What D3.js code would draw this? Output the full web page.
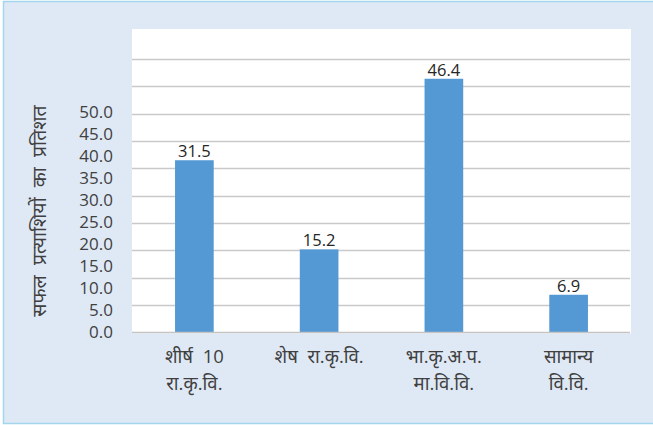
<!DOCTYPE html>
<html>
<head>
<meta charset="utf-8">
<script src="https://cdn.jsdelivr.net/npm/d3@7"></script>
<style>
  html, body { margin: 0; padding: 0; background: #ffffff; }
  svg { display: block; font-family: "Open Sans", "Noto Sans", "Noto Sans Devanagari", sans-serif; }
</style>
</head>
<body>
<svg id="chart" width="653" height="425"></svg>
<script>
// Share of successful candidates by university type
const categories = [["शीर्ष  10", "रा.कृ.वि."], ["शेष  रा.कृ.वि."], ["भा.कृ.अ.प.", "मा.वि.वि."], ["सामान्य", "वि.वि."]];
const values = [31.5, 15.2, 46.4, 6.9];
const gridValues = [0, 5, 10, 15, 20, 25, 30, 35, 40, 45, 50];
const tickLabels = ["0.0", "5.0", "10.0", "15.0", "20.0", "25.0", "30.0", "35.0", "40.0", "45.0", "50.0"];
const yTitle = "सफल  प्रत्याशियों  का  प्रतिशत";

const svg = d3.select("#chart");
const W = 653, H = 425;

// outer panel
svg.append("rect").attr("x", 3.5).attr("y", 1.5).attr("width", W).attr("height", H - 3)
  .attr("fill", "#dfe9f5").attr("stroke", "#a3d6ee").attr("stroke-width", 1.5);

const plot = { left: 132, right: 631, top: 29, bottom: 332.5 };

// white plot area
svg.append("rect").attr("x", plot.left).attr("y", plot.top)
  .attr("width", plot.right - plot.left).attr("height", plot.bottom - plot.top + 1)
  .attr("fill", "#ffffff");

const x = d3.scaleBand().domain(d3.range(categories.length))
  .range([plot.left, plot.right]).paddingInner(0.69).paddingOuter(0.345);
const y = d3.scaleLinear().domain([0, 55.5]).range([plot.bottom, plot.top]);
// tick label column runs on its own tighter spacing
const yLab = d3.scaleLinear().domain([0, 50]).range([332, 112.5]);

// gridlines
svg.append("g").selectAll("line").data(gridValues.slice(1)).join("line")
  .attr("x1", plot.left).attr("x2", plot.right - 1)
  .attr("y1", d => Math.round(y(d)) + 0.5).attr("y2", d => Math.round(y(d)) + 0.5)
  .attr("stroke", "#c9c9c9").attr("stroke-width", 1.3);

// bars
svg.append("g").selectAll("rect").data(values).join("rect")
  .attr("x", (d, i) => x(i)).attr("width", x.bandwidth())
  .attr("y", d => y(d)).attr("height", d => y(0) - y(d))
  .attr("fill", "#5499d4");

// baseline
svg.append("line").attr("x1", plot.left).attr("x2", plot.right - 1)
  .attr("y1", plot.bottom).attr("y2", plot.bottom)
  .attr("stroke", "#c4c4c4").attr("stroke-width", 1.5);

// value labels
svg.append("g").selectAll("text").data(values).join("text")
  .attr("x", (d, i) => x(i) + x.bandwidth() / 2).attr("y", d => y(d) - 3)
  .attr("text-anchor", "middle").attr("font-size", 16.5).attr("fill", "#262626")
  .text(d => d.toFixed(1));

// y tick labels
const yAxis = d3.axisLeft(yLab).tickValues(gridValues)
  .tickFormat((d, i) => tickLabels[i]).tickSize(0).tickPadding(0);
const ya = svg.append("g").attr("transform", "translate(113,0)").call(yAxis);
ya.select(".domain").remove();
ya.selectAll("text").attr("font-size", 17).attr("fill", "#404040")
  .attr("font-family", "'Open Sans', sans-serif");

// category labels
const cat = svg.append("g").selectAll("text").data(categories).join("text")
  .attr("text-anchor", "middle").attr("font-size", 18.5).attr("fill", "#404040")
  .attr("transform", (d, i) => `translate(${x(i) + x.bandwidth() / 2},0)`);
cat.selectAll("tspan").data(d => d).join("tspan")
  .attr("x", 0).attr("y", (d, i) => 363 + i * 27)
  .style("white-space", "pre").text(d => d);

// y axis title
svg.append("text").attr("transform", "translate(46,211) rotate(-90)")
  .attr("text-anchor", "middle").attr("font-size", 19.5).attr("fill", "#404040")
  .style("white-space", "pre").text(yTitle);
</script>
</body>
</html>
